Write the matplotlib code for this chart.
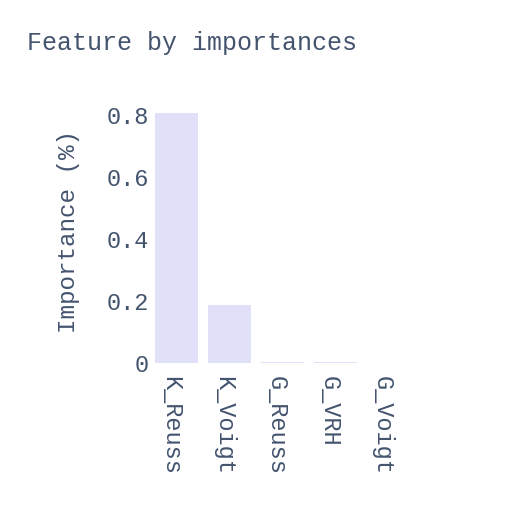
import matplotlib
matplotlib.use('Agg')
import matplotlib.pyplot as plt
from matplotlib.ticker import FuncFormatter
from matplotlib.transforms import ScaledTranslation

features = ['K_Reuss', 'K_Voigt', 'G_Reuss', 'G_VRH', 'G_Voigt']
importances = [0.807, 0.187, 0.003, 0.002, 0.001]
yticks = [0, 0.2, 0.4, 0.6, 0.8]

txt = '#44546f'
plt.rcParams['font.family'] = ['Liberation Mono', 'DejaVu Sans Mono']

fig = plt.figure(figsize=(5.19, 5.25), dpi=100)
ax = fig.add_axes([150/519, 1 - 363/525, 265/519, 263/525])

ax.bar(range(len(features)), importances, width=0.8, color='#e0e0f9')
ax.set_xlim(-0.5, len(features) - 0.5)
ax.set_ylim(0, 0.85)

for s in ax.spines.values():
    s.set_visible(False)

ax.set_yticks(yticks)
ax.yaxis.set_major_formatter(FuncFormatter(lambda v, p: '0' if v == 0 else '%g' % v))
ax.set_xticks(range(len(features)))
ax.set_xticklabels(features, rotation=-90, va='top', ha='center')
ax.tick_params(axis='both', length=0, labelsize=17, labelcolor=txt)
ax.tick_params(axis='y', pad=0.8)
ax.tick_params(axis='x', pad=9)
shift = ScaledTranslation(-6/100, 0, fig.dpi_scale_trans)
for lab in ax.get_xticklabels():
    lab.set_transform(lab.get_transform() + shift)

ax.set_ylabel('Importance (%)', fontsize=17.5, color=txt, labelpad=19)
fig.text(27/519, 1 - 43/525, 'Feature by importances', fontsize=18,
         color=txt, va='center', ha='left')

plt.savefig('out.png', dpi=100)
